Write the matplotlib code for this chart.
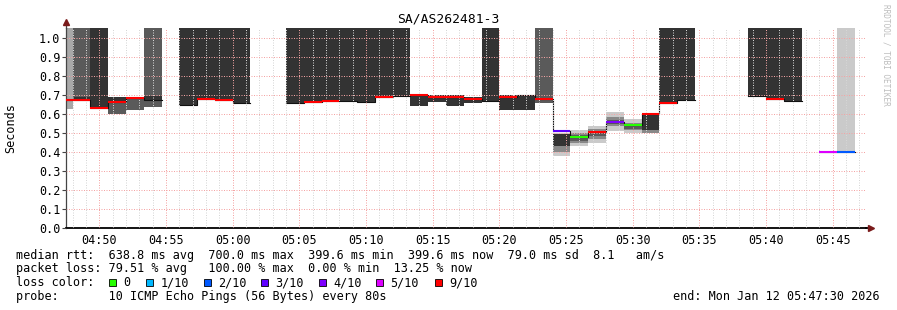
import datetime as dt
import numpy as np
import matplotlib
matplotlib.use('Agg')
import matplotlib.pyplot as plt
import matplotlib.dates as mdates
from matplotlib.patches import Rectangle
from matplotlib.ticker import MultipleLocator, FormatStrFormatter

W, H = 897, 310
START = dt.datetime(2026, 1, 12, 4, 47, 30)
END = dt.datetime(2026, 1, 12, 5, 47, 30)
FIRST = dt.datetime(2026, 1, 12, 4, 46, 40)   # first (clipped) 80 s step
STEP_S = 80

# median rtt (s) per step, None = no answer at all
median = [0.675, 0.675, 0.632, 0.663, 0.682, 0.672, None, 0.646, 0.678, 0.672, 0.660,
          None, None, 0.656, 0.663, 0.668, 0.670, 0.663, 0.690, 0.695, 0.700, 0.692,
          0.692, 0.680, 0.670, 0.692, 0.700, 0.680, 0.512, 0.478, 0.503, 0.560, 0.540,
          0.600, 0.660, 0.674, None, None, None, 0.695, 0.680, 0.670, None, 0.401, 0.398]

# loss bucket per step (10 = drawn plain, no loss colour)
loss = [9, 9, 9, 9, 9, 10, None, 10, 9, 9, 10, None, None, 10, 9, 9, 10, 10, 9, 10, 9,
        9, 9, 9, 10, 9, 10, 9, 3, 0, 9, 4, 0, 9, 9, 10, None, None, None, 10, 9, 10,
        None, 5, 2]

# smoke: (step, low, high, layer)  high None = lost pings, up to the top
smoke = [
    (0, 0.625, None, 2),
    (1, 0.675, None, 4), (1, 0.675, 0.690, 5),
    (2, 0.628, None, 5),
    (3, 0.600, 0.660, 4), (3, 0.660, 0.690, 5),
    (4, 0.620, 0.690, 4),
    (5, 0.636, None, 4), (5, 0.672, 0.695, 5),
    (7, 0.646, None, 5), (8, 0.675, None, 5), (9, 0.668, None, 5), (10, 0.660, None, 5),
    (13, 0.656, None, 5), (14, 0.660, None, 5), (15, 0.665, None, 5), (16, 0.670, None, 5),
    (17, 0.663, None, 5), (18, 0.687, None, 5), (19, 0.695, None, 5),
    (20, 0.642, 0.700, 5), (21, 0.663, 0.700, 5), (22, 0.642, 0.700, 5),
    (23, 0.658, 0.690, 5), (24, 0.670, None, 5), (25, 0.621, 0.700, 5),
    (26, 0.621, 0.700, 5), (27, 0.660, None, 4),
    (28, 0.378, 0.500, 1), (28, 0.400, 0.497, 3), (28, 0.430, 0.497, 5),
    (29, 0.430, 0.515, 1), (29, 0.445, 0.500, 3), (29, 0.460, 0.490, 4),
    (30, 0.450, 0.535, 1), (30, 0.470, 0.520, 3), (30, 0.485, 0.510, 4),
    (31, 0.512, 0.610, 1), (31, 0.535, 0.585, 3), (31, 0.550, 0.570, 4),
    (32, 0.500, 0.574, 1), (32, 0.515, 0.555, 3), (32, 0.520, 0.535, 4),
    (33, 0.500, 0.600, 3), (33, 0.516, 0.600, 5),
    (34, 0.660, None, 5), (35, 0.674, None, 5),
    (39, 0.695, None, 5), (40, 0.680, None, 5), (41, 0.670, None, 5),
    (44, 0.393, None, 1),
]

loss_labels = ['0', '1/10', '2/10', '3/10', '4/10', '5/10', '9/10']
loss_keys = [0, 1, 2, 3, 4, 5, 9]

title = 'SA/AS262481-3'
stats = ['median rtt:  638.8 ms avg  700.0 ms max  399.6 ms min  399.6 ms now  79.0 ms sd  8.1   am/s',
         'packet loss: 79.51 % avg   100.00 % max  0.00 % min  13.25 % now']
probe = 'probe:       10 ICMP Echo Pings (56 Bytes) every 80s'
end_txt = 'end: Mon Jan 12 05:47:30 2026'

loss_col = {0: '#26ff00', 1: '#00b8ff', 2: '#0059ff', 3: '#5e00ff', 4: '#7e00ff',
            5: '#dd00ff', 9: '#ff0000', 10: None}
greys = {1: '#cacaca', 2: '#a8a8a8', 3: '#888888', 4: '#5a5a5a', 5: '#333333'}
MONO = 'DejaVu Sans Mono'
FS = 8.45

fig = plt.figure(figsize=(W / 100, H / 100), dpi=100)
ax = fig.add_axes([66 / W, 82 / H, 800 / W, 200 / H])
ytop = 200 / 190
ax.set_xlim(mdates.date2num(START), mdates.date2num(END))
ax.set_ylim(0, ytop)

step = STEP_S / 86400
edges = mdates.date2num(FIRST) + np.arange(len(median) + 1) * step

for i, lo, hi, layer in smoke:
    top = ytop if hi is None else hi
    ax.bar(edges[i], top - lo, bottom=lo, width=step, align='edge',
           color=greys[layer], linewidth=0, zorder=1)

med = np.array([np.nan if m is None else m for m in median])
ax.step(edges, np.append(med, med[-1]), where='post', color='#111111', lw=0.8, zorder=2)
for i, (m, l) in enumerate(zip(median, loss)):
    if m is None or loss_col[l] is None:
        continue
    ax.hlines(m, edges[i], edges[i + 1], colors=loss_col[l], lw=1.5, zorder=3)

# grid
ax.xaxis.set_major_locator(mdates.MinuteLocator(byminute=range(0, 60, 5)))
ax.xaxis.set_minor_locator(mdates.MinuteLocator())
ax.xaxis.set_major_formatter(mdates.DateFormatter('%H:%M'))
ax.yaxis.set_major_locator(MultipleLocator(0.1))
ax.yaxis.set_major_formatter(FormatStrFormatter('%.1f'))
ax.set_axisbelow(False)
ax.grid(which='minor', axis='x', color='#d6d6d6', ls=(0, (1, 1.5)), lw=0.72)
ax.grid(which='major', color='#f4a4a4', ls=(0, (1, 1.5)), lw=0.72)

for s in ['top', 'right']:
    ax.spines[s].set_visible(False)
ax.spines['left'].set_color('#444444')
ax.spines['left'].set_linewidth(0.9)
ax.spines['bottom'].set_color('#000000')
ax.spines['bottom'].set_linewidth(1.3)
ax.tick_params(axis='x', which='both', length=0, pad=4, labelsize=FS)
ax.tick_params(axis='y', length=3, width=0.8, pad=1, labelsize=FS, color='#444444')
for lab in ax.get_xticklabels() + ax.get_yticklabels():
    lab.set_family(MONO)

# axis arrows
ax.plot([1, 1.005], [0, 0], transform=ax.transAxes, clip_on=False, color='black', lw=1.3)
ax.plot([1.006], [0], marker='>', ms=4, color='#7a1a1a', transform=ax.transAxes, clip_on=False)
ax.plot([0, 0], [1, 1.025], transform=ax.transAxes, clip_on=False, color='#444444', lw=0.9)
ax.plot([0], [1.03], marker='^', ms=4, color='#7a1a1a', transform=ax.transAxes, clip_on=False)


def px(x, y):
    return x / W, 1 - y / H


fig.text(*px(448.5, 19), title, ha='center', va='center', family=MONO, size=9.4)
fig.text(*px(11, 128), 'Seconds', rotation=90, ha='center', va='center', family=MONO, size=FS)
fig.text(*px(886, 4), 'RRDTOOL / TOBI OETIKER', rotation=270, ha='center', va='top',
         family=MONO, size=5.6, color='#bdbdbd')

fig.text(*px(16, 255), stats[0], ha='left', va='center', family=MONO, size=FS)
fig.text(*px(16, 268.5), stats[1], ha='left', va='center', family=MONO, size=FS)
fig.text(*px(16, 282.5), 'loss color:', ha='left', va='center', family=MONO, size=FS)
box_x = [108.5, 146, 203.5, 261, 318.5, 376, 435]
for bx, key, lab in zip(box_x, loss_keys, loss_labels):
    fig.add_artist(Rectangle((bx / W, 1 - 286 / H), 7 / W, 7 / H, transform=fig.transFigure,
                             facecolor=loss_col[key], edgecolor='black', lw=0.6))
    fig.text(*px(bx + 14.5, 282.5), lab, ha='left', va='center', family=MONO, size=FS)
fig.text(*px(16, 296.5), probe, ha='left', va='center', family=MONO, size=FS)
fig.text(*px(880, 296.5), end_txt, ha='right', va='center', family=MONO, size=FS)

fig.savefig('out.png', dpi=100)
